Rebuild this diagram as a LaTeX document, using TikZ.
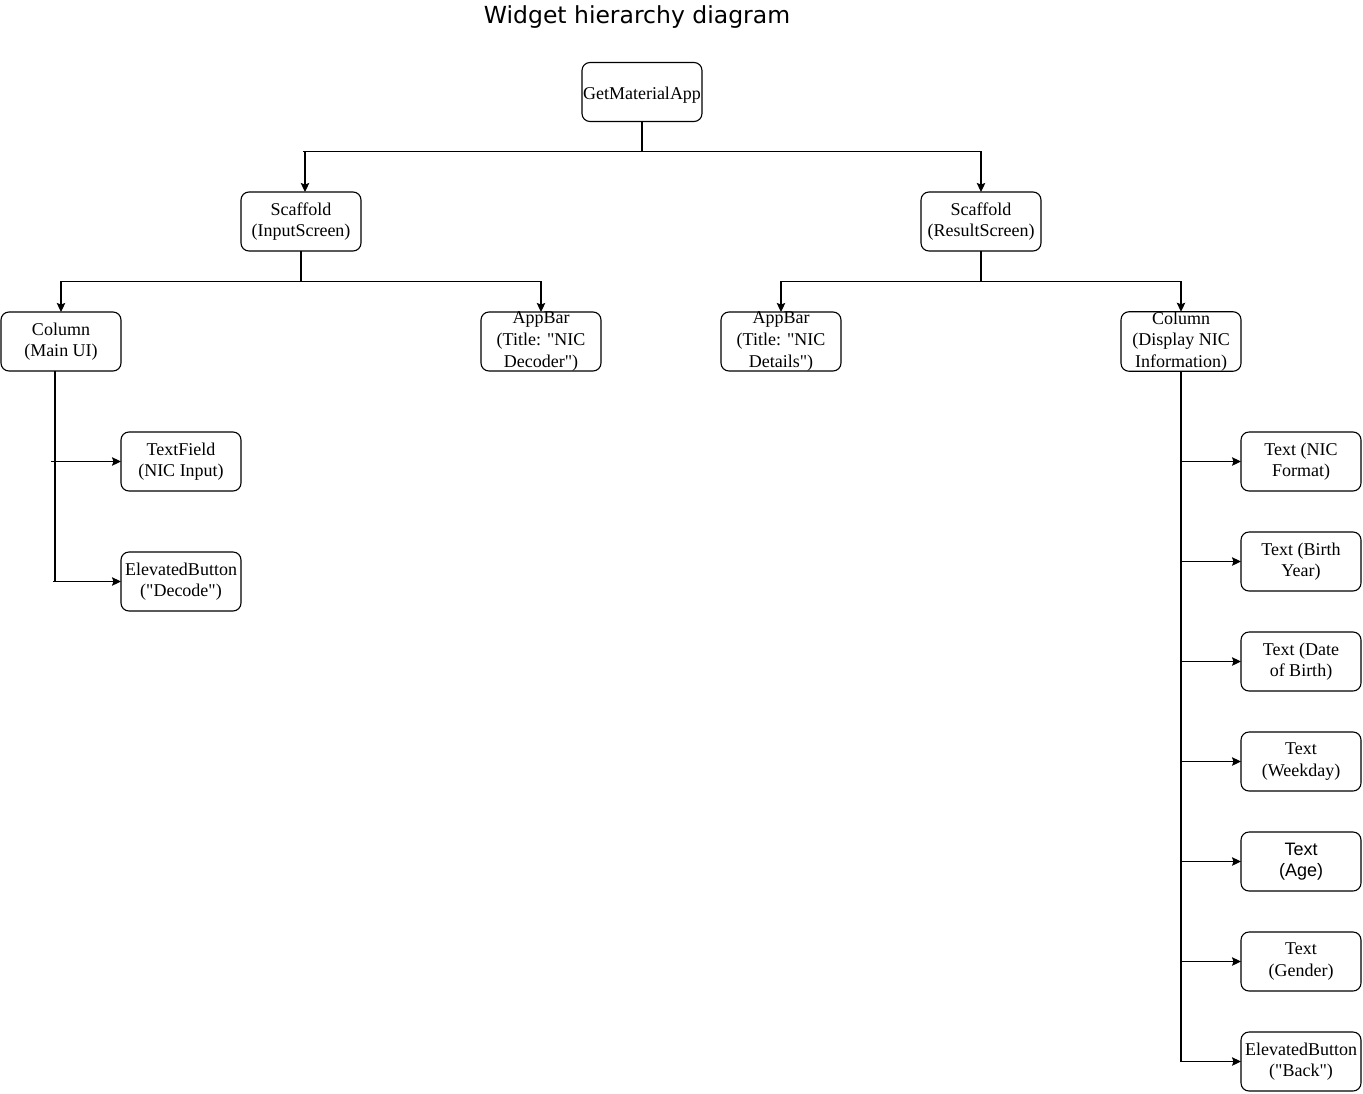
\documentclass[tikz,border=0pt]{standalone}
\usepackage{fontspec}
\setmainfont{Liberation Serif}
\newfontfamily\titlefont{DejaVu Sans}
\newfontfamily\arialfont{Liberation Sans}
\usetikzlibrary{arrows.meta}
\newcommand\dq{\textquotedbl}
\newcommand\lnstrut{\rule[-3.76pt]{0pt}{21.6pt}}
\begin{document}
\begin{tikzpicture}[x=1pt,y=-1pt,
  box/.style={draw,line width=1.1pt,rounded corners=8pt,minimum width=120pt,minimum height=59pt,
    inner sep=0pt,outer sep=0pt,align=center,font=\fontsize{18}{21.6}\selectfont,
    execute at begin node=\lnstrut, execute at end node=\lnstrut},
  conn/.style={line width=1.1pt},
  arr/.style={line width=1.1pt,-{Stealth[length=9pt,width=8.5pt,inset=1.5pt]}}]
\useasboundingbox (0,0) rectangle (1363,1093);
\node[font=\titlefont\fontsize{23.5}{28}\selectfont] (title) at (637,17) {Widget hierarchy diagram};
\node[box] (gma) at (642,92) {GetMaterialApp};
\node[box] (sc1) at (301,221.5) {Scaffold\\(InputScreen)};
\node[box] (sc2) at (981,221.5) {Scaffold\\(ResultScreen)};
\node[box] (col1) at (61,341.5) {Column\\(Main UI)};
\node[box] (ab1) at (541,341.5) {AppBar\\(Title: \dq NIC\\Decoder\dq)};
\node[box] (ab2) at (781,341.5) {AppBar\\(Title: \dq NIC\\Details\dq)};
\node[box] (col2) at (1181,341.5) {Column\\(Display NIC\\Information)};
\node[box] (tf) at (181,461.5) {TextField\\(NIC Input)};
\node[box] (eb1) at (181,581.5) {ElevatedButton\\(\dq Decode\dq)};
\node[box] (t1) at (1301,461.5) {Text (NIC\\Format)};
\node[box] (t2) at (1301,561.5) {Text (Birth\\Year)};
\node[box] (t3) at (1301,661.5) {Text (Date\\of Birth)};
\node[box] (t4) at (1301,761.5) {Text\\(Weekday)};
\node[box,font=\arialfont\fontsize{18}{21.6}\selectfont] (t5) at (1301,861.5) {Text\\(Age)};
\node[box] (t6) at (1301,961.5) {Text\\(Gender)};
\node[box] (eb2) at (1301,1061.5) {ElevatedButton\\(\dq Back\dq)};
% level 1
\coordinate (j0) at (642,151.5);
\coordinate (j0l) at (303,151.5);
\draw[conn] (gma.south) -- (j0) -- (j0l);
\draw[arr] (j0) -| ([xshift=4pt]sc1.north);
\draw[arr] (j0) -| (sc2.north);
% level 2 left
\coordinate (j1) at (301,281.5);
\draw[conn] (sc1.south) -- (j1);
\draw[arr] (j1) -| (col1.north);
\draw[arr] (j1) -| (ab1.north);
% level 2 right
\coordinate (j2) at (981,281.5);
\draw[conn] (sc2.south) -- (j2);
\draw[arr] (j2) -| (ab2.north);
\draw[arr] (j2) -| (col2.north);
% column main UI children
\coordinate (v1top) at (55,371);
\coordinate (v1bot) at (55,581.5);
\coordinate (s1) at (51,461.5);
\coordinate (s2) at (53,581.5);
\draw[conn] (v1top) -- (v1bot);
\draw[arr] (s1) -- (tf.west);
\draw[arr] (s2) -- (eb1.west);
% column display children
\coordinate (v2bot) at (1181,1061.5);
\draw[conn] (col2.south) -- (v2bot);
\foreach \n/\y in {t1/461.5,t2/561.5,t3/661.5,t4/761.5,t5/861.5,t6/961.5,eb2/1061.5}{
  \coordinate (b\n) at (1181,\y);
  \draw[arr] (b\n) -- (\n.west);
}
\end{tikzpicture}
\end{document}
